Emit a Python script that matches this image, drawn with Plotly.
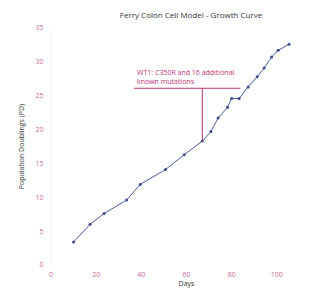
import plotly.graph_objects as go

days = [10, 17.3, 23.5, 33.5, 39.5, 50.7, 59, 67, 70.8, 74, 78.2, 80, 83.3, 87.3, 91.3, 94.4, 97.7, 100.6, 105.4]
pd_values = [3.4, 6.0, 7.6, 9.6, 11.9, 14.1, 16.3, 18.3, 19.7, 21.7, 23.3, 24.6, 24.6, 26.3, 27.8, 29.1, 30.7, 31.7, 32.6]
x_ticks = [0, 20, 40, 60, 80, 100, 120]
y_ticks = [0, 5, 10, 15, 20, 25, 30, 35]
note_lines = ["WT1: C350R and 16 additional", "known mutations"]
note_index = 7
bracket_y = 26.1
bracket_x = [36.7, 83.9]

FONT = "Open Sans"
PINK = "#c0307a"
TICK = "#c86aa0"

fig = go.Figure()
fig.add_trace(go.Scatter(
    x=days, y=pd_values, mode="lines+markers",
    line=dict(color="#4b5a9c", width=1),
    marker=dict(color="#3b4a8c", size=3),
    hoverinfo="x+y", showlegend=False))

# annotation bracket
fig.add_shape(type="line", x0=bracket_x[0], x1=bracket_x[1], y0=bracket_y, y1=bracket_y,
              line=dict(color=PINK, width=1))
fig.add_shape(type="line", x0=days[note_index], x1=days[note_index],
              y0=pd_values[note_index], y1=bracket_y, line=dict(color=PINK, width=1))
fig.add_annotation(x=bracket_x[0], y=bracket_y, xanchor="left", yanchor="bottom",
                   text="<br>".join(note_lines), showarrow=False, align="left",
                   font=dict(family=FONT, size=7, color=PINK), xshift=1, yshift=0)

fig.update_layout(
    width=320, height=285,
    margin=dict(l=43, r=6, t=20, b=28),
    paper_bgcolor="white", plot_bgcolor="white",
    font=dict(family=FONT, size=7, color="#333"),
    title=dict(text="Ferry Colon Cell Model - Growth Curve", x=0.572, xanchor="center",
               y=0.975, yanchor="middle", font=dict(family=FONT, size=8, color="#333")),
    xaxis=dict(range=[0, 120], tickvals=x_ticks, showgrid=False, zeroline=False,
               showline=False, tickfont=dict(color=TICK, size=7), ticks="",
               ticklabelstandoff=4,
               title=dict(text="Days", font=dict(size=7, color="#333"), standoff=3)),
    yaxis=dict(range=[0, 35], tickvals=y_ticks, showgrid=False, zeroline=False,
               showline=True, linecolor="#f2f2f2", linewidth=1,
               tickfont=dict(color=TICK, size=7), ticks="",
               ticklabelstandoff=5,
               title=dict(text="Population Doublings (PD)", font=dict(size=7, color="#333"), standoff=10)),
)

fig.write_html("out.html")
